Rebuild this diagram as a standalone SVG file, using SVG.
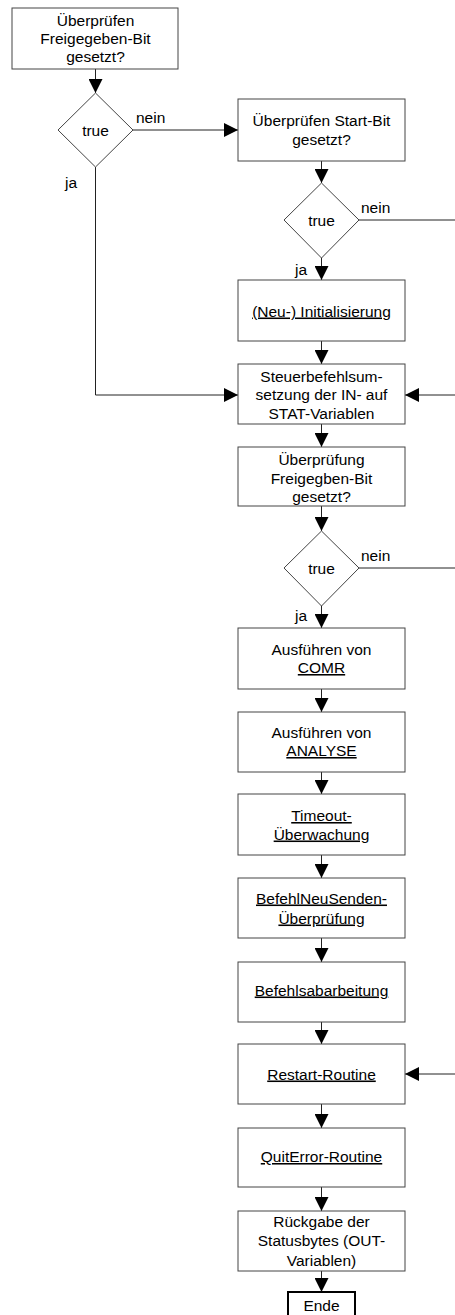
<svg xmlns="http://www.w3.org/2000/svg" width="455" height="1315" viewBox="0 0 455 1315">
  <style>
    text { font-family: "Liberation Sans", Arial, sans-serif; font-size: 15.5px; fill: #000; }
    .c { text-anchor: middle; }
    .u { text-decoration: underline; }
    .box { fill: #fff; stroke: #444; stroke-width: 1; }
    .end { fill: #fff; stroke: #000; stroke-width: 2; }
    .dia { fill: #fff; stroke: #444; stroke-width: 1; }
    .ln { fill: none; stroke: #222; stroke-width: 1; }
  </style>
  <defs>
    <marker id="arr" markerUnits="userSpaceOnUse" markerWidth="14" markerHeight="14" refX="14" refY="7" orient="auto">
      <path d="M0,0 L14,7 L0,14 z" fill="#000"/>
    </marker>
  </defs>

  <rect width="455" height="1315" fill="#fff"/>

  <!-- connectors -->
  <g id="connectors">
    <path class="ln" d="M95.5,69 V93" marker-end="url(#arr)"/>
    <path class="ln" d="M133,130 H238" marker-end="url(#arr)"/>
    <path class="ln" d="M95.5,167 V395 H238" marker-end="url(#arr)"/>
    <path class="ln" d="M321.5,161 V183" marker-end="url(#arr)"/>
    <path class="ln" d="M359,220 H455"/>
    <path class="ln" d="M321.5,258 V280" marker-end="url(#arr)"/>
    <path class="ln" d="M321.5,341 V364" marker-end="url(#arr)"/>
    <path class="ln" d="M455,395 H405" marker-end="url(#arr)"/>
    <path class="ln" d="M321.5,424 V447" marker-end="url(#arr)"/>
    <path class="ln" d="M321.5,506 V531" marker-end="url(#arr)"/>
    <path class="ln" d="M359,568 H455"/>
    <path class="ln" d="M321.5,606 V628" marker-end="url(#arr)"/>
    <path class="ln" d="M321.5,689 V712" marker-end="url(#arr)"/>
    <path class="ln" d="M321.5,772 V794" marker-end="url(#arr)"/>
    <path class="ln" d="M321.5,855 V878" marker-end="url(#arr)"/>
    <path class="ln" d="M321.5,938 V962" marker-end="url(#arr)"/>
    <path class="ln" d="M321.5,1022 V1044" marker-end="url(#arr)"/>
    <path class="ln" d="M455,1074 H405" marker-end="url(#arr)"/>
    <path class="ln" d="M321.5,1104 V1128" marker-end="url(#arr)"/>
    <path class="ln" d="M321.5,1187 V1211" marker-end="url(#arr)"/>
    <path class="ln" d="M321.5,1271 V1292" marker-end="url(#arr)"/>
    <text x="136" y="123">nein</text>
    <text x="65" y="188">ja</text>
    <text x="361" y="213">nein</text>
    <text x="295" y="275">ja</text>
    <text x="361" y="561">nein</text>
    <text x="295" y="621">ja</text>
  </g>

  <g id="check-enable">
    <rect class="box" x="12" y="8" width="166" height="61"/>
    <text class="c" x="95.5" y="25.7">Überprüfen</text>
    <text class="c" x="95.5" y="44">Freigegeben-Bit</text>
    <text class="c" x="95.5" y="62.3">gesetzt?</text>
  </g>

  <g id="decision-enable">
    <polygon class="dia" points="95.5,93 133,130 95.5,167 58,130"/>
    <text class="c" x="95.5" y="135.5">true</text>
  </g>

  <g id="check-start">
    <rect class="box" x="238" y="99" width="167" height="62"/>
    <text class="c" x="321.5" y="126">Überprüfen Start-Bit</text>
    <text class="c" x="321.5" y="145">gesetzt?</text>
  </g>

  <g id="decision-start">
    <polygon class="dia" points="321.5,183 359,220 321.5,258 284,220"/>
    <text class="c" x="321.5" y="225.5">true</text>
  </g>

  <g id="init">
    <rect class="box" x="238" y="280" width="167" height="61"/>
    <text class="c u" x="321.5" y="316.5">(Neu-) Initialisierung</text>
  </g>

  <g id="command-transfer">
    <rect class="box" x="238" y="364" width="167" height="60"/>
    <text class="c" x="321.5" y="382">Steuerbefehlsum-</text>
    <text class="c" x="321.5" y="400.3">setzung der IN- auf</text>
    <text class="c" x="321.5" y="418.6">STAT-Variablen</text>
  </g>

  <g id="check-enable-2">
    <rect class="box" x="238" y="447" width="167" height="59"/>
    <text class="c" x="321.5" y="465">Überprüfung</text>
    <text class="c" x="321.5" y="483.5">Freigegben-Bit</text>
    <text class="c" x="321.5" y="502">gesetzt?</text>
  </g>

  <g id="decision-enable-2">
    <polygon class="dia" points="321.5,531 359,568 321.5,606 284,568"/>
    <text class="c" x="321.5" y="573.5">true</text>
  </g>

  <g id="run-comr">
    <rect class="box" x="238" y="628" width="167" height="61"/>
    <text class="c" x="321.5" y="654.5">Ausführen von</text>
    <text class="c u" x="321.5" y="673">COMR</text>
  </g>

  <g id="run-analyse">
    <rect class="box" x="238" y="712" width="167" height="60"/>
    <text class="c" x="321.5" y="737.5">Ausführen von</text>
    <text class="c u" x="321.5" y="756">ANALYSE</text>
  </g>

  <g id="timeout">
    <rect class="box" x="238" y="794" width="167" height="61"/>
    <text class="c u" x="321.5" y="821">Timeout-</text>
    <text class="c u" x="321.5" y="839.5">Überwachung</text>
  </g>

  <g id="resend-check">
    <rect class="box" x="238" y="878" width="167" height="60"/>
    <text class="c u" x="321.5" y="903.5">BefehlNeuSenden-</text>
    <text class="c u" x="321.5" y="923.5">Überprüfung</text>
  </g>

  <g id="command-processing">
    <rect class="box" x="238" y="962" width="167" height="60"/>
    <text class="c u" x="321.5" y="995.5">Befehlsabarbeitung</text>
  </g>

  <g id="restart">
    <rect class="box" x="238" y="1044" width="167" height="60"/>
    <text class="c u" x="321.5" y="1079.5">Restart-Routine</text>
  </g>

  <g id="quit-error">
    <rect class="box" x="238" y="1128" width="167" height="59"/>
    <text class="c u" x="321.5" y="1162">QuitError-Routine</text>
  </g>

  <g id="status-return">
    <rect class="box" x="238" y="1211" width="167" height="60"/>
    <text class="c" x="321.5" y="1227">Rückgabe der</text>
    <text class="c" x="321.5" y="1246.3">Statusbytes (OUT-</text>
    <text class="c" x="321.5" y="1265.5">Variablen)</text>
  </g>

  <g id="end">
    <rect class="end" x="288" y="1292" width="67" height="30"/>
    <text class="c" x="321.5" y="1310.5">Ende</text>
  </g>
</svg>
